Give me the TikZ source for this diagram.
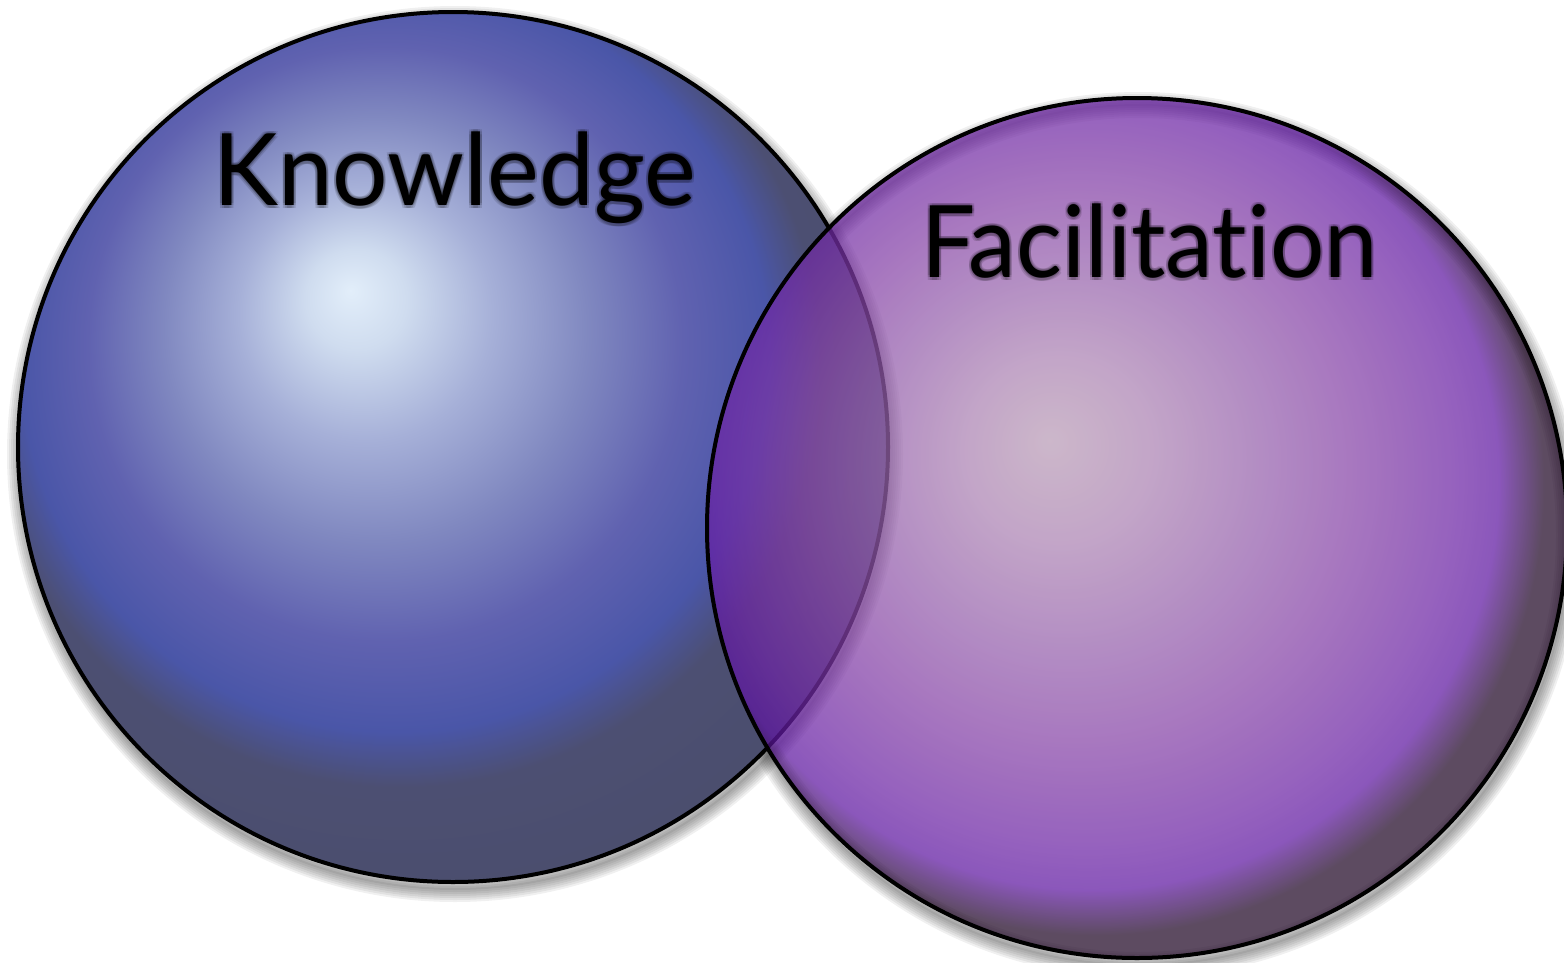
\documentclass[tikz,border=0pt]{standalone}
\usepackage{fontspec}
\setmainfont{Lato}[Ligatures={NoCommon,NoRare}]
\definecolor{k0}{HTML}{E2EEFA}
\definecolor{k1}{HTML}{CFDCEF}
\definecolor{k2}{HTML}{A6B0D8}
\definecolor{k3}{HTML}{8088C0}
\definecolor{k4}{HTML}{6062B0}
\definecolor{k5}{HTML}{4A56A8}
\definecolor{k6}{HTML}{4C4F72}
\definecolor{k7}{HTML}{4B4E6E}
\definecolor{r0}{HTML}{B99CB6}
\definecolor{r1}{HTML}{AC83B3}
\definecolor{r2}{HTML}{9763AD}
\definecolor{r3}{HTML}{8643A7}
\definecolor{r4}{HTML}{6D25A5}
\definecolor{r5}{HTML}{5F17A2}
\definecolor{r6}{HTML}{1F0625}
\definecolor{r7}{HTML}{1A031F}
\pgfdeclareradialshading{kball}{\pgfpoint{-5.9bp}{9bp}}{color(0bp)=(k0); color(2.9bp)=(k1); color(7.3bp)=(k2); color(12.2bp)=(k3); color(17.1bp)=(k4); color(21.5bp)=(k5); color(24.2bp)=(k6); color(29.3bp)=(k7); color(50bp)=(k7)}
\pgfdeclareradialshading{fball}{\pgfpoint{-5.1bp}{5.1bp}}{color(0bp)=(r0); color(5.4bp)=(r1); color(10.8bp)=(r2); color(16.1bp)=(r3); color(21.5bp)=(r4); color(23.7bp)=(r5); color(26.1bp)=(r6); color(50bp)=(r7)}
\tikzset{
  sphereline/.style={draw=black, line width=4pt},
  shadowring/.style={draw=black, opacity=0.06},
  label/.style={anchor=base west, inner sep=0pt, font=\fontsize{100}{110}\selectfont},
  glow/.style={label, text=black, opacity=0.12}
}
\begin{document}
\begin{tikzpicture}[x=1pt,y=-1pt]
\useasboundingbox (0,0) rectangle (1564,962);
\fill[white] (0,0) rectangle (1564,962);
% shadows
\foreach \w in {2,6,10,14,18,22,26}{
  \draw[shadowring, line width=\w pt] (455,454) circle (435);
  \draw[shadowring, line width=\w pt] (1139,535) circle (430);
}
% left sphere
\path[shading=kball, sphereline] (453,447) circle (435);
% right sphere
\path[shading=fball, fill opacity=0.72, sphereline] (1137,528) circle (430);
% labels with soft text shadow
\foreach \dx/\dy in {-2/0,2/0,0/-2,0/3,2/3,-2/3,2/-2,-2/-2}{
  \node[glow, xscale=0.98] at (213+\dx,205+\dy) {Knowledge};
  \node[glow, xscale=0.96] at (921+\dx,277+\dy) {Facilitation};
}
\node[label, xscale=0.98] (know) at (213,205) {Knowledge};
\node[label, xscale=0.96] (fac) at (921,277) {Facilitation};
\end{tikzpicture}
\end{document}
